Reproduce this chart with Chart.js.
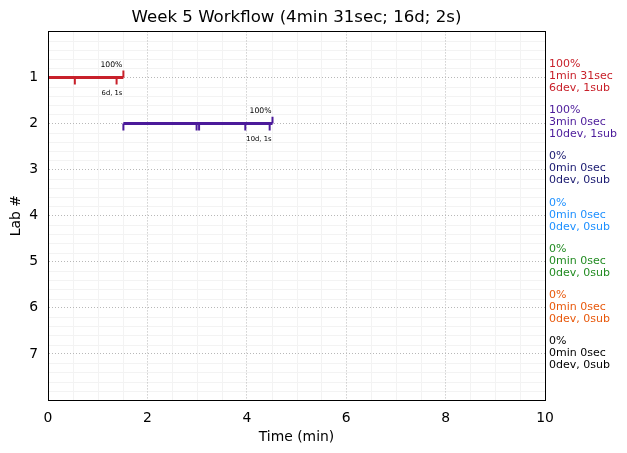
<!DOCTYPE html>
<html>
<head>
<meta charset="utf-8">
<script src="https://cdn.jsdelivr.net/npm/chart.js@4/dist/chart.umd.min.js"></script>
<style>
  html, body { margin: 0; padding: 0; background: #fff; }
  #wrap { width: 627px; height: 453px; position: relative; }
</style>
</head>
<body>
<div id="wrap"><canvas id="c" width="627" height="453"></canvas></div>
<script>
// ---- data ----
const labs = [1, 2, 3, 4, 5, 6, 7];
const labColors = ['#c8202a', '#4b1a9a', '#191970', '#1e90ff', '#228b22', '#e8590c', '#000000'];
const percentText = ['100%', '100%', '0%', '0%', '0%', '0%', '0%'];
const timeText = ['1min 31sec', '3min 0sec', '0min 0sec', '0min 0sec', '0min 0sec', '0min 0sec', '0min 0sec'];
const devText = ['6dev, 1sub', '10dev, 1sub', '0dev, 0sub', '0dev, 0sub', '0dev, 0sub', '0dev, 0sub', '0dev, 0sub'];

// bars (only labs with work)
const barLab = [1, 2];
const barStart = [0, 1.517];
const barEnd = [1.517, 4.517];
const barPct = ['100%', '100%'];
const barCounts = ['6d, 1s', '10d, 1s'];
const deviceTimes = [[0, 0.54, 1.38], [1.517, 2.99, 3.04, 3.97, 4.46]];
const subTimes = [[1.517], [4.517]];

const xTicks = [0, 2, 4, 6, 8, 10];
const yTicks = [1, 2, 3, 4, 5, 6, 7];
const titleText = 'Week 5 Workflow (4min 31sec; 16d; 2s)';

// ---- build datasets ----
const TICK = 0.15;
const FONT = "'DejaVu Sans', sans-serif";
const datasets = [];
barLab.forEach((lab, i) => {
  const col = labColors[lab - 1];
  datasets.push({
    data: [{x: barStart[i], y: lab}, {x: barEnd[i], y: lab}],
    borderColor: col, borderWidth: 3, pointRadius: 0, showLine: true, borderCapStyle: 'butt'
  });
  deviceTimes[i].forEach(t => datasets.push({
    data: [{x: t, y: lab}, {x: t, y: lab + TICK}],
    borderColor: col, borderWidth: 2, pointRadius: 0, showLine: true, borderCapStyle: 'butt'
  }));
  subTimes[i].forEach(t => datasets.push({
    data: [{x: t, y: lab}, {x: t, y: lab - TICK}],
    borderColor: col, borderWidth: 2, pointRadius: 0, showLine: true, borderCapStyle: 'butt'
  }));
});

const decor = {
  id: 'decor',
  beforeDraw(chart) {
    const {ctx, chartArea: a, scales: {x, y}} = chart;
    ctx.save();
    ctx.strokeStyle = '#f3f3f3';
    ctx.lineWidth = 1;
    for (let v = 0.5; v < 10; v += 0.5) {
      if (Math.abs(v / 2 - Math.round(v / 2)) < 1e-6) continue;
      const px = Math.round(x.getPixelForValue(v)) + 0.5;
      ctx.beginPath(); ctx.moveTo(px, a.top); ctx.lineTo(px, a.bottom); ctx.stroke();
    }
    for (let k = 1; k < 40; k++) {
      if (k % 5 === 0) continue;
      const py = Math.round(y.getPixelForValue(k * 0.2)) + 0.5;
      ctx.beginPath(); ctx.moveTo(a.left, py); ctx.lineTo(a.right, py); ctx.stroke();
    }
    ctx.restore();
  },
  afterDatasetsDraw(chart) {
    const {ctx, chartArea: a, scales: {x, y}} = chart;
    ctx.save();
    // bar annotations
    barLab.forEach((lab, i) => {
      const ex = x.getPixelForValue(barEnd[i]);
      const ly = y.getPixelForValue(lab);
      ctx.fillStyle = '#000';
      ctx.textAlign = 'right';
      ctx.textBaseline = 'middle';
      ctx.font = '7.7px ' + FONT;
      ctx.fillText(barPct[i], ex - 1, ly - 12.5);
      ctx.font = '6.8px ' + FONT;
      ctx.fillText(barCounts[i], ex - 1, ly + 16);
    });
    // frame
    ctx.strokeStyle = '#000';
    ctx.lineWidth = 1;
    ctx.strokeRect(Math.round(a.left) + 0.5, Math.round(a.top) + 0.5,
      Math.round(a.right - a.left), Math.round(a.bottom - a.top));
    // right-side text
    ctx.textAlign = 'left';
    ctx.textBaseline = 'middle';
    ctx.font = '11px ' + FONT;
    labs.forEach((lab, i) => {
      const py = y.getPixelForValue(lab);
      ctx.fillStyle = labColors[i];
      ctx.fillText(percentText[i], a.right + 4, py - 13);
      ctx.fillText(timeText[i], a.right + 4, py - 1);
      ctx.fillText(devText[i], a.right + 4, py + 11);
    });
    ctx.restore();
  }
};

new Chart(document.getElementById('c'), {
  type: 'scatter',
  data: {datasets},
  options: {
    responsive: false,
    animation: false,
    devicePixelRatio: 1,
    layout: {padding: {left: 0, right: 82, top: 0, bottom: 0}},
    plugins: {
      legend: {display: false},
      tooltip: {enabled: false},
      title: {
        display: true, text: titleText, fullSize: false,
        color: '#000', font: {family: FONT, size: 16.6, weight: 'normal', lineHeight: 1.2},
        padding: {top: 7.5, bottom: 4}
      }
    },
    scales: {
      x: {
        type: 'linear', min: 0, max: 10,
        afterBuildTicks: s => { s.ticks = xTicks.map(v => ({value: v})); },
        afterFit: s => { s.height = 53; },
        ticks: {color: '#000', font: {family: FONT, size: 13.9}, padding: 10, maxRotation: 0},
        grid: {color: '#b8b8b8', lineWidth: 1, drawTicks: false},
        border: {color: '#000', width: 1, dash: [1, 2]},
        title: {display: true, text: 'Time (min)', color: '#000',
          font: {family: FONT, size: 13.9, lineHeight: 1.2}, padding: {top: 0, bottom: 7}}
      },
      y: {
        type: 'linear', min: 0, max: 8, reverse: true,
        afterBuildTicks: s => { s.ticks = yTicks.map(v => ({value: v})); },
        afterFit: s => { s.width = 48; },
        ticks: {color: '#000', font: {family: FONT, size: 13.9}, padding: 10},
        grid: {color: '#b8b8b8', lineWidth: 1, drawTicks: false},
        border: {color: '#000', width: 1, dash: [1, 2]},
        title: {display: true, text: 'Lab #', color: '#000',
          font: {family: FONT, size: 13.9, lineHeight: 1.2}, padding: {top: 8, bottom: 0}}
      }
    }
  },
  plugins: [decor]
});
</script>
</body>
</html>
